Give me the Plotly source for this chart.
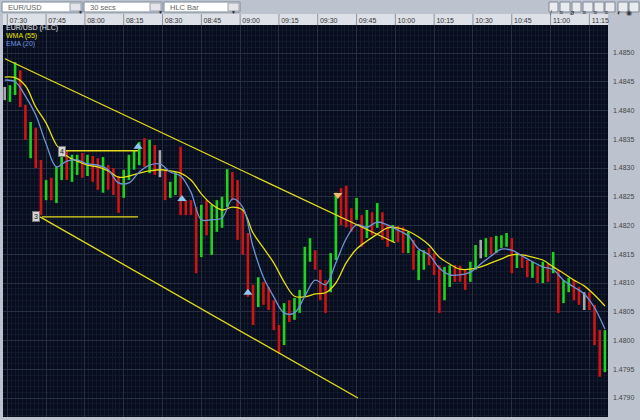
import pandas as pd
import plotly.graph_objects as go

DAY = "2009-11-20 "

# 2-minute HLC bars from 07:29
bar_high = [1.48441, 1.48444, 1.48484, 1.48470, 1.48410, 1.48380, 1.48370, 1.48314, 1.48279, 1.48283,
            1.48302, 1.48328, 1.48331, 1.48323, 1.48323, 1.48326, 1.48323, 1.48321, 1.48317, 1.48319,
            1.48305, 1.48300, 1.48286, 1.48297, 1.48323, 1.48331, 1.48345, 1.48352, 1.48349, 1.48340,
            1.48331, 1.48297, 1.48276, 1.48293, 1.48337, 1.48244, 1.48244, 1.48232, 1.48236, 1.48244,
            1.48236, 1.48244, 1.48250, 1.48298, 1.48293, 1.48279, 1.48227, 1.48187, 1.48097, 1.48110,
            1.48102, 1.48093, 1.48070, 1.48027, 1.48065, 1.48070, 1.48074, 1.48088, 1.48163, 1.48178,
            1.48157, 1.48123, 1.48105, 1.48152, 1.48257, 1.48265, 1.48269, 1.48230, 1.48248, 1.48218,
            1.48227, 1.48223, 1.48239, 1.48223, 1.48201, 1.48201, 1.48199, 1.48197, 1.48189, 1.48175,
            1.48157, 1.48157, 1.48161, 1.48152, 1.48131, 1.48128, 1.48131, 1.48131, 1.48130, 1.48123,
            1.48137, 1.48166, 1.48175, 1.48178, 1.48180, 1.48182, 1.48183, 1.48187, 1.48178, 1.48152,
            1.48149, 1.48140, 1.48137, 1.48130, 1.48137, 1.48133, 1.48154, 1.48123, 1.48105, 1.48109,
            1.48105, 1.48093, 1.48084, 1.48084, 1.48062, 1.48018, 1.48018]
bar_low = [1.48418, 1.48415, 1.48427, 1.48406, 1.48349, 1.48317, 1.48300, 1.48218, 1.48244, 1.48244,
           1.48239, 1.48279, 1.48279, 1.48276, 1.48288, 1.48283, 1.48286, 1.48276, 1.48262, 1.48257,
           1.48262, 1.48253, 1.48222, 1.48248, 1.48279, 1.48297, 1.48305, 1.48302, 1.48291, 1.48288,
           1.48284, 1.48244, 1.48248, 1.48253, 1.48218, 1.48218, 1.48218, 1.48117, 1.48145, 1.48183,
           1.48149, 1.48189, 1.48196, 1.48232, 1.48244, 1.48175, 1.48149, 1.48076, 1.48027, 1.48058,
           1.48062, 1.48053, 1.48018, 1.47978, 1.47992, 1.48032, 1.48036, 1.48048, 1.48076, 1.48137,
           1.48123, 1.48070, 1.48048, 1.48084, 1.48140, 1.48201, 1.48197, 1.48189, 1.48210, 1.48163,
           1.48178, 1.48183, 1.48196, 1.48175, 1.48163, 1.48171, 1.48171, 1.48152, 1.48152, 1.48123,
           1.48105, 1.48123, 1.48131, 1.48114, 1.48048, 1.48070, 1.48093, 1.48102, 1.48102, 1.48088,
           1.48102, 1.48123, 1.48143, 1.48145, 1.48149, 1.48152, 1.48161, 1.48163, 1.48117, 1.48126,
           1.48126, 1.48110, 1.48109, 1.48100, 1.48100, 1.48102, 1.48117, 1.48048, 1.48065, 1.48084,
           1.48070, 1.48062, 1.48053, 1.48053, 1.47992, 1.47937, 1.47945]
bar_close = [1.48427, 1.48436, 1.48462, 1.48418, 1.48357, 1.48366, 1.48314, 1.48262, 1.48270, 1.48262,
             1.48288, 1.48314, 1.48297, 1.48305, 1.48314, 1.48297, 1.48314, 1.48288, 1.48279, 1.48297,
             1.48279, 1.48262, 1.48236, 1.48288, 1.48314, 1.48323, 1.48331, 1.48314, 1.48331, 1.48297,
             1.48297, 1.48253, 1.48262, 1.48279, 1.48244, 1.48227, 1.48223, 1.48166, 1.48218, 1.48201,
             1.48210, 1.48227, 1.48236, 1.48279, 1.48270, 1.48192, 1.48166, 1.48088, 1.48070, 1.48088,
             1.48079, 1.48062, 1.48027, 1.48001, 1.48053, 1.48044, 1.48062, 1.48079, 1.48149, 1.48166,
             1.48131, 1.48088, 1.48079, 1.48140, 1.48244, 1.48236, 1.48218, 1.48210, 1.48236, 1.48175,
             1.48210, 1.48201, 1.48227, 1.48192, 1.48175, 1.48192, 1.48183, 1.48166, 1.48175, 1.48137,
             1.48140, 1.48149, 1.48143, 1.48123, 1.48079, 1.48114, 1.48123, 1.48119, 1.48114, 1.48097,
             1.48126, 1.48157, 1.48157, 1.48166, 1.48157, 1.48171, 1.48175, 1.48180, 1.48131, 1.48140,
             1.48137, 1.48119, 1.48123, 1.48109, 1.48123, 1.48109, 1.48126, 1.48070, 1.48097, 1.48102,
             1.48079, 1.48070, 1.48070, 1.48062, 1.48001, 1.47975, 1.48010]

# moving averages read every 4 minutes from 07:29
wma_55 = [1.48458, 1.48457, 1.48443, 1.48406, 1.48378, 1.48340, 1.48321, 1.48312, 1.48305, 1.48302,
          1.48295, 1.48284, 1.48286, 1.48291, 1.48295, 1.48297, 1.48295, 1.48291, 1.48279, 1.48255,
          1.48237, 1.48227, 1.48232, 1.48227, 1.48187, 1.48161, 1.48135, 1.48102, 1.48077, 1.48076,
          1.48081, 1.48083, 1.48100, 1.48135, 1.48159, 1.48173, 1.48185, 1.48196, 1.48196, 1.48190,
          1.48180, 1.48166, 1.48145, 1.48133, 1.48124, 1.48124, 1.48128, 1.48135, 1.48142, 1.48149,
          1.48149, 1.48145, 1.48140, 1.48128, 1.48117, 1.48105, 1.48095, 1.48079, 1.48060]
ema_20 = [1.48453, 1.48450, 1.48425, 1.48392, 1.48342, 1.48302, 1.48312, 1.48314, 1.48307, 1.48305,
          1.48297, 1.48274, 1.48274, 1.48293, 1.48305, 1.48307, 1.48293, 1.48286, 1.48258, 1.48210,
          1.48210, 1.48213, 1.48246, 1.48232, 1.48163, 1.48110, 1.48076, 1.48048, 1.48048, 1.48077,
          1.48105, 1.48097, 1.48135, 1.48177, 1.48201, 1.48197, 1.48206, 1.48201, 1.48192, 1.48182,
          1.48159, 1.48149, 1.48126, 1.48114, 1.48114, 1.48119, 1.48133, 1.48147, 1.48159, 1.48157,
          1.48147, 1.48137, 1.48128, 1.48123, 1.48105, 1.48093, 1.48081, 1.48057, 1.48020]

# drawn channel and wave levels
upper_time = ["07:29:06", "09:59:54"]
upper_price = [1.48490, 1.48170]
lower_time = ["07:42:38", "09:45:32"]
lower_price = [1.48215, 1.47900]
level4_time = ["07:52:18", "08:20:30"]
level4_price = [1.48330, 1.48330]
level3_time = ["07:43:25", "08:20:30"]
level3_price = [1.48215, 1.48215]
wave_labels = ["4", "3"]
wave_time = ["07:51:09", "07:41:06"]
wave_price = [1.48328, 1.48215]

buy_time = ["08:20:31", "08:37:30", "09:03:00"]
buy_price = [1.48337, 1.48246, 1.48083]
sell_time = ["09:37:48"]
sell_price = [1.48253]

bar_time = pd.date_range(DAY + "07:29", periods=len(bar_close), freq="2min")
ma_time = pd.date_range(DAY + "07:29", periods=len(ema_20), freq="4min")


def t(hms):
    return DAY + hms


def px(x):
    return (x - 3) / 605


def py(y):
    return (417 - y) / 392


def bar_segments(kind):
    xs, ys = [], []
    prev = bar_close[0]
    for tm, lo, hi, c in zip(bar_time, bar_low, bar_high, bar_close):
        d = "up" if c > prev else ("down" if c < prev else "flat")
        prev = c
        if d == kind:
            xs += [tm, tm, None]
            ys += [lo, hi, None]
    return xs, ys


fig = go.Figure()
for kind, color in [("up", "#1fd21f"), ("down", "#d01414"), ("flat", "#a8a8a8")]:
    xs, ys = bar_segments(kind)
    fig.add_trace(go.Scatter(x=xs, y=ys, mode="lines", line=dict(color=color, width=2.6)))

fig.add_trace(go.Scatter(x=ma_time, y=wma_55, mode="lines",
                         line=dict(color="#e6df14", width=1.3, shape="spline")))
fig.add_trace(go.Scatter(x=ma_time, y=ema_20, mode="lines",
                         line=dict(color="#6f93d6", width=1.3, shape="spline")))

for tt, pp in [(upper_time, upper_price), (lower_time, lower_price),
               (level4_time, level4_price), (level3_time, level3_price)]:
    fig.add_trace(go.Scatter(x=[t(v) for v in tt], y=pp, mode="lines",
                             line=dict(color="#e6dc1e", width=1.3)))

fig.add_trace(go.Scatter(x=[t(v) for v in buy_time], y=buy_price, mode="markers",
                         marker=dict(symbol="triangle-up", size=8, color="#8cc8f0")))
fig.add_trace(go.Scatter(x=[t(v) for v in sell_time], y=sell_price, mode="markers",
                         marker=dict(symbol="triangle-down", size=8, color="#f2b676")))

for lab, tt, pp in zip(wave_labels, wave_time, wave_price):
    fig.add_annotation(x=t(tt), y=pp, text=lab, showarrow=False,
                       font=dict(size=7, color="#111"), bgcolor="#d4d4d4",
                       bordercolor="#777", borderwidth=1, borderpad=1)

# legend text, top left
for i, (txt, col) in enumerate([("EUR/USD (HLC)", "#e8e8e8"), ("WMA (55)", "#e8e000"),
                                 ("EMA (20)", "#6f95e0")]):
    fig.add_annotation(xref="paper", yref="paper", x=px(4), y=py(28 + 8 * i), text=txt,
                       showarrow=False, xanchor="left", yanchor="middle",
                       font=dict(size=7, color=col))

shapes = []
# time header row
shapes.append(dict(type="rect", xref="paper", yref="paper", x0=0, x1=1, y0=1, y1=py(14),
                   fillcolor="#dde0e6", line=dict(width=0), layer="below"))
for tm in pd.date_range(DAY + "07:30", DAY + "11:15", freq="15min"):
    shapes.append(dict(type="line", xref="x", yref="paper", x0=tm, x1=tm, y0=1, y1=py(14),
                       line=dict(color="#8c93a0", width=1)))

# toolbar dropdowns
for label, x0, x1 in [("EUR/USD", 2, 82), ("30 secs", 84, 162), ("HLC Bar", 164, 240)]:
    shapes.append(dict(type="rect", xref="paper", yref="paper", x0=px(x0), x1=px(x1),
                       y0=py(12), y1=py(2), fillcolor="#ffffff", line=dict(color="#7d8796", width=1)))
    shapes.append(dict(type="rect", xref="paper", yref="paper", x0=px(x1 - 12), x1=px(x1 - 1),
                       y0=py(11), y1=py(3), fillcolor="#e3e5ea", line=dict(color="#9aa2ae", width=1)))
    fig.add_annotation(xref="paper", yref="paper", x=px(x0 + 4), y=py(7), text=label,
                       showarrow=False, xanchor="left", yanchor="middle",
                       font=dict(size=7.5, color="#666"))
    fig.add_annotation(xref="paper", yref="paper", x=px(x1 - 6.5), y=py(7), text="▼",
                       showarrow=False, font=dict(size=5, color="#222"))

# toolbar icons
for x0, x1, glyph in [(549, 558, "/"), (560, 570, "≡"), (572, 581, "ø"), (583, 593, "≡"),
                      (594, 604, "≡"), (605, 615, "≡"), (618, 628, "◐"), (629, 639, "◉")]:
    shapes.append(dict(type="rect", xref="paper", yref="paper", x0=px(x0), x1=px(x1),
                       y0=py(12), y1=py(2), fillcolor="#e9ebef", line=dict(color="#7d8796", width=1)))
    fig.add_annotation(xref="paper", yref="paper", x=px((x0 + x1) / 2), y=py(7), text=glyph,
                       showarrow=False, font=dict(size=7, color="#333"))

fig.update_layout(
    width=640, height=420,
    margin=dict(l=3, r=32, t=25, b=3),
    paper_bgcolor="#bcc3cf",
    plot_bgcolor="#070d1c",
    showlegend=False,
    shapes=shapes,
    font=dict(family="Liberation Sans, Arial, sans-serif", size=7, color="#333"),
)
fig.update_xaxes(
    type="date", side="top", range=[t("07:28:20"), t("11:22:12")],
    tick0=t("07:30"), dtick=15 * 60 * 1000, tickformat="%H:%M",
    showgrid=True, gridcolor="#263042", gridwidth=1,
    minor=dict(dtick=90 * 1000, showgrid=True, gridcolor="#101a2c"),
    ticks="", ticklabelshift=11, tickfont=dict(size=7, color="#333"),
    zeroline=False, showline=False,
)
fig.update_yaxes(
    side="right", range=[1.4786696, 1.4854870], tick0=1.4790, dtick=0.0005, tickformat=".4f",
    showgrid=True, gridcolor="#263042", gridwidth=1,
    minor=dict(dtick=0.0001, showgrid=True, gridcolor="#101a2c"),
    ticks="", ticklen=0, ticklabelstandoff=4, tickfont=dict(size=7, color="#444"),
    zeroline=False, showline=False,
)

# the page body has a default 8px margin; drop it so the chart fills the window
fig.write_html("out.html", config={"displayModeBar": False},
               post_script="document.body.style.margin='0px';")
